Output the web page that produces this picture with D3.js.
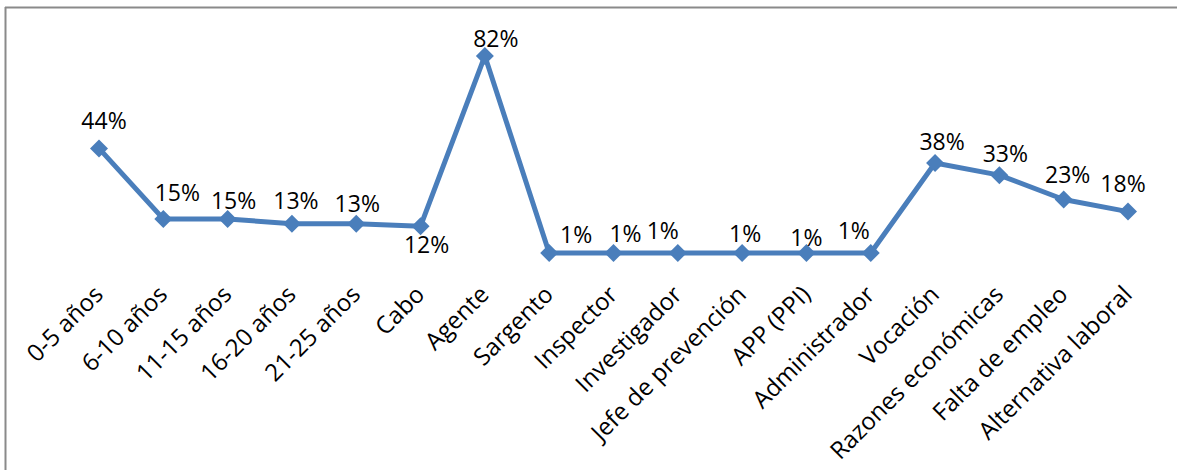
<!DOCTYPE html>
<html>
<head>
<meta charset="utf-8">
<script src="https://cdn.jsdelivr.net/npm/d3@7"></script>
<style>
  html, body { margin: 0; padding: 0; background: #fff; }
  svg { display: block; }
  text { font-family: "Open Sans", sans-serif; fill: #000; }
</style>
</head>
<body>
<svg id="chart" width="1177" height="470"></svg>
<script>
// Categories along the x axis
const categories = [
  "0-5 años", "6-10 años", "11-15 años", "16-20 años", "21-25 años",
  "Cabo", "Agente", "Sargento", "Inspector", "Investigador",
  "Jefe de prevención", "APP (PPI)", "Administrador",
  "Vocación", "Razones económicas", "Falta de empleo", "Alternativa laboral"
];

// Share of respondents for each category
const values = [
  0.44, 0.15, 0.15, 0.13, 0.13,
  0.12, 0.82, 0.01, 0.01, 0.01,
  0.01, 0.01, 0.01,
  0.38, 0.33, 0.23, 0.18
];

// Nudges for the value labels relative to their markers [dx, dy]
const labelNudge = [
  [5, -19], [14, -18], [6, -10], [4, -15], [1, -12],
  [6, 27], [11, -9], [27, -10], [12, -11], [-15, -14],
  [3, -11], [0, -7], [-17, -14],
  [7, -13], [6, -13], [4, -16], [-5, -20]
];

const W = 1177, H = 470;
const svg = d3.select("#chart");
const color = "#4A7EBB";
const valueFont = 23;
const axisFont = 24;

// Chart frame (top and left edges)
svg.append("line")
  .attr("x1", 5).attr("x2", W).attr("y1", 7.5).attr("y2", 7.5)
  .attr("stroke", "#8a8a8a").attr("stroke-width", 2);
svg.append("line")
  .attr("x1", 5.5).attr("x2", 5.5).attr("y1", 7).attr("y2", H)
  .attr("stroke", "#8a8a8a").attr("stroke-width", 2);

// Scales
const x = d3.scalePoint()
  .domain(categories)
  .range([99, 1128]);

const y = d3.scaleLinear()
  .domain([0, 1])
  .range([255.4, 12.2]);

const pts = categories.map((c, i) => ({ cat: c, v: values[i], i }));

// Line
svg.append("path")
  .datum(pts)
  .attr("fill", "none")
  .attr("stroke", color)
  .attr("stroke-width", 5)
  .attr("stroke-linejoin", "round")
  .attr("d", d3.line().x(d => x(d.cat)).y(d => y(d.v)));

// Diamond markers
const diamond = d3.symbol().type(d3.symbolSquare).size(162);
svg.append("g").selectAll("path")
  .data(pts)
  .join("path")
  .attr("d", diamond)
  .attr("fill", color)
  .attr("transform", d => `translate(${x(d.cat)},${y(d.v)}) rotate(45)`);

// Value labels
const fmt = d3.format(".0%");
svg.append("g").selectAll("text")
  .data(pts)
  .join("text")
  .attr("x", d => x(d.cat) + labelNudge[d.i][0])
  .attr("y", d => y(d.v) + labelNudge[d.i][1])
  .attr("text-anchor", "middle")
  .attr("font-size", valueFont)
  .text(d => fmt(d.v));

// Category axis labels, rotated
const xAxis = d3.axisBottom(x).tickSize(0).tickPadding(0);
const gx = svg.append("g")
  .attr("transform", "translate(0,296)")
  .call(xAxis);
gx.select(".domain").remove();
gx.selectAll(".tick text")
  .attr("font-family", "'Open Sans', sans-serif")
  .attr("font-size", axisFont)
  .attr("fill", "#000")
  .attr("text-anchor", "end")
  .attr("dy", 0)
  .attr("y", 0)
  .attr("transform", "translate(5,0) rotate(-45)");
</script>
</body>
</html>
